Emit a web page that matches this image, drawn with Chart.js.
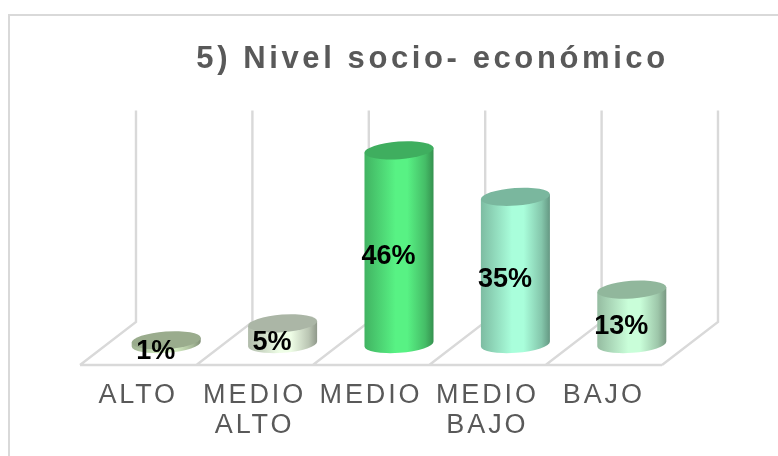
<!DOCTYPE html>
<html><head><meta charset="utf-8">
<style>html,body{margin:0;padding:0;background:#fff}#w{position:relative;width:778px;height:456px}</style>
<script src="https://cdn.jsdelivr.net/npm/chart.js@4"></script>
</head><body><div id="w"><canvas id="c" width="778" height="456"></canvas></div>
<script>
const titleText = '5) Nivel socio- económico';
const categories = ['ALTO', ['MEDIO','ALTO'], 'MEDIO', ['MEDIO','BAJO'], 'BAJO'];
const values = [1, 5, 46, 35, 13];
const barColors = ['#d6efc4', '#eefde6', '#58f284', '#a9fedb', '#c9fed9'];
const FONT = '"Liberation Sans", Arial, sans-serif';
const GRID = '#d9d9d9';

function shade(hex, k){
  const n = parseInt(hex.slice(1),16);
  return `rgb(${Math.round((n>>16&255)*k)},${Math.round((n>>8&255)*k)},${Math.round((n&255)*k)})`;
}

// Cylinder look for the library's own bar elements
Chart.BarElement.prototype.draw = function(ctx){
  const {x,y,base,width} = this.getProps(['x','y','base','width'], true);
  const col = this.options.backgroundColor;
  const r = width/2, ry = 8.8, tilt = -Math.atan(5/69);
  const g = ctx.createLinearGradient(x-r,0,x+r,0);
  g.addColorStop(0, shade(col,.74));
  g.addColorStop(.45, col);
  g.addColorStop(.62, col);
  g.addColorStop(.88, shade(col,.78));
  g.addColorStop(1, shade(col,.6));
  const dy = r*Math.tan(-tilt);
  ctx.save();
  ctx.fillStyle = g;
  ctx.beginPath();
  ctx.moveTo(x-r, y+dy);
  ctx.lineTo(x-r, base+dy);
  ctx.ellipse(x, base-0.5, r/Math.cos(tilt), ry, tilt, Math.PI, 0, true);
  ctx.lineTo(x+r, y-dy);
  ctx.closePath();
  ctx.fill();
  ctx.fillStyle = shade(col,.72);
  ctx.beginPath();
  ctx.ellipse(x, y, r/Math.cos(tilt), ry, tilt, 0, Math.PI*2);
  ctx.fill();
  ctx.restore();
};

const frame = {
  id:'frame',
  afterLayout(chart){
    const t = chart.titleBlock;
    t.left = 196; t.right = 669;
    const drawTitle = t.draw;
    t.draw = function(){
      this.ctx.save();
      this.ctx.letterSpacing = '3.6px';
      drawTitle.call(this);
      this.ctx.restore();
    };
  },
  beforeDraw(chart){
    const {ctx,canvas} = chart;
    ctx.letterSpacing = '2.9px';
    ctx.save();
    ctx.strokeStyle = GRID; ctx.lineWidth = 2;
    ctx.beginPath();
    ctx.moveTo(9, canvas.height); ctx.lineTo(9,15); ctx.lineTo(canvas.width,15);
    ctx.stroke();
    ctx.restore();
  },
  beforeDatasetsDraw(chart){
    const {ctx,chartArea:a,scales:{x,y}} = chart;
    const step = x.getPixelForValue(1)-x.getPixelForValue(0);
    const by = y.getPixelForValue(0), back = by-22.5, front = by+20.5, top = y.getPixelForValue(50)-23, d = 28;
    ctx.save();
    ctx.strokeStyle = GRID; ctx.lineWidth = 2.4;
    ctx.beginPath();
    for(let i=0;i<=values.length;i++){
      const p = x.getPixelForValue(0)-step/2+i*step;
      ctx.moveTo(p+d,top); ctx.lineTo(p+d,back); ctx.lineTo(p-d,front);
    }
    ctx.moveTo(a.left-d,front); ctx.lineTo(a.right-d,front);
    ctx.stroke();
    ctx.restore();
  },
  afterDatasetsDraw(chart){
    const {ctx} = chart;
    const meta = chart.getDatasetMeta(0);
    ctx.save();
    ctx.letterSpacing = '0px';
    ctx.font = `bold 27px ${FONT}`;
    ctx.fillStyle = '#000';
    ctx.textAlign='center'; ctx.textBaseline='middle';
    meta.data.forEach((b,i)=>{
      ctx.fillText(values[i]+'%', b.x-10.5, (b.y+b.base)/2+9);
    });
    ctx.restore();
  }
};

new Chart(document.getElementById('c'),{
  type:'bar',
  data:{labels:categories,datasets:[{data:values,backgroundColor:barColors,borderWidth:0,categoryPercentage:.593,barPercentage:1,clip:false}]},
  plugins:[frame],
  options:{
    responsive:false,animation:false,
    layout:{padding:{top:41.6,left:108,right:88,bottom:0}},
    plugins:{
      legend:{display:false},tooltip:{enabled:false},
      title:{display:true,text:titleText,color:'#595959',fullSize:false,
        font:{family:FONT,size:31,weight:'bold',lineHeight:1.122},padding:{top:0,bottom:57.1}}
    },
    scales:{
      x:{grid:{display:false,drawTicks:false},border:{display:false},
        afterFit(s){s.height=111.5;},
        ticks:{autoSkip:false,maxRotation:0,minRotation:0,labelOffset:-28,padding:36.5,color:'#595959',
          font:{family:FONT,size:27,lineHeight:1.11}}},
      y:{display:false,min:0,max:50}
    }
  }
});
</script></body></html>
